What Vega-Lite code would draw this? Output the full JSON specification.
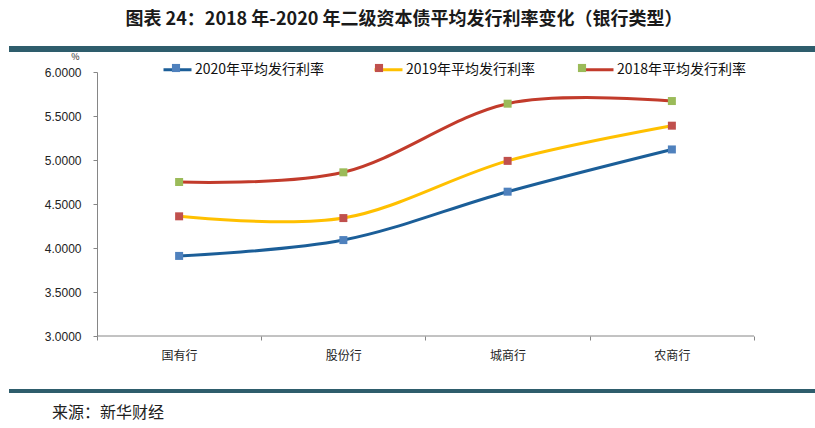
{
  "$schema": "https://vega.github.io/schema/vega-lite/v6.json",
  "padding": {"left": 9, "top": 11, "right": 0, "bottom": 4},
  "background": "white",
  "title": {
    "text": "图表 24：2018 年-2020 年二级资本债平均发行利率变化（银行类型）",
    "font": "Noto Sans CJK SC",
    "fontSize": 18,
    "fontWeight": "bold",
    "color": "#1a1a1a",
    "anchor": "middle",
    "dx": -8,
    "offset": 17
  },
  "spacing": 0,
  "columns": 1,
  "align": "none",
  "concat": [
    {
      "width": 806,
      "height": 6,
      "view": {"fill": "#2E5D6C", "stroke": null},
      "data": {"values": []},
      "mark": {"type": "rule"},
      "encoding": {}
    },
    {
      "spacing": 28,
      "columns": 1,
      "align": "none",
      "concat": [
        {
          "width": 745,
          "height": 264,
          "data": {
            "values": [
              {"bank": "国有行", "series": "2020年平均发行利率", "rate": 3.91},
              {"bank": "股份行", "series": "2020年平均发行利率", "rate": 4.09},
              {"bank": "城商行", "series": "2020年平均发行利率", "rate": 4.64},
              {"bank": "农商行", "series": "2020年平均发行利率", "rate": 5.12},
              {"bank": "国有行", "series": "2019年平均发行利率", "rate": 4.36},
              {"bank": "股份行", "series": "2019年平均发行利率", "rate": 4.34},
              {"bank": "城商行", "series": "2019年平均发行利率", "rate": 4.99},
              {"bank": "农商行", "series": "2019年平均发行利率", "rate": 5.39},
              {"bank": "国有行", "series": "2018年平均发行利率", "rate": 4.75},
              {"bank": "股份行", "series": "2018年平均发行利率", "rate": 4.86},
              {"bank": "城商行", "series": "2018年平均发行利率", "rate": 5.64},
              {"bank": "农商行", "series": "2018年平均发行利率", "rate": 5.67}
            ]
          },
          "encoding": {
            "x": {
              "field": "bank",
              "type": "nominal",
              "sort": ["国有行", "股份行", "城商行", "农商行"],
              "scale": {"type": "band", "paddingInner": 0, "paddingOuter": 0.26788, "align": 1},
              "axis": {
                "title": null,
                "labelAngle": 0,
                "tickBand": "extent",
                "domain": false,
                "tickColor": "#868686",
                "tickSize": 4,
                "labelFontSize": 12,
                "labelColor": "#222222",
                "labelFont": "Noto Sans CJK SC",
                "labelPadding": 10,
                "grid": false
              }
            },
            "y": {
              "field": "rate",
              "type": "quantitative",
              "scale": {"domain": [3, 6], "nice": false, "zero": false},
              "axis": {
                "values": [3, 3.5, 4, 4.5, 5, 5.5, 6],
                "format": ".4f",
                "offset": -88,
                "title": "%",
                "titleAngle": 0,
                "titleX": -22,
                "titleY": -16,
                "titleFontSize": 9,
                "titleFontWeight": "normal",
                "titleAlign": "center",
                "titleBaseline": "middle",
                "titleColor": "#222222",
                "domainColor": "#868686",
                "tickColor": "#868686",
                "tickSize": 4,
                "labelFontSize": 12,
                "labelColor": "#222222",
                "labelFont": "Liberation Sans",
                "labelPadding": 12,
                "grid": false
              }
            }
          },
          "layer": [
            {
              "data": {"values": [{"base": 3}]},
              "mark": {"type": "rule", "color": "#868686", "strokeWidth": 1},
              "encoding": {
                "y": {"field": "base", "type": "quantitative"},
                "x": {"datum": "国有行", "bandPosition": 0},
                "x2": {"datum": "农商行", "bandPosition": 1}
              }
            },
            {
              "mark": {"type": "line", "interpolate": "cardinal", "strokeWidth": 3},
              "encoding": {
                "stroke": {
                  "field": "series",
                  "type": "nominal",
                  "scale": {
                    "domain": ["2020年平均发行利率", "2019年平均发行利率", "2018年平均发行利率"],
                    "range": ["#1B5E98", "#FFC000", "#C23B2B"]
                  },
                  "legend": {
                    "title": null,
                    "orient": "none",
                    "direction": "horizontal",
                    "legendX": 153,
                    "legendY": 8,
                    "padding": 0,
                    "symbolType": "M-1,0L1,0",
                    "symbolSize": 784,
                    "symbolStrokeWidth": 3,
                    "labelFontSize": 14,
                    "labelFont": "Noto Sans CJK SC",
                    "labelColor": "#111111",
                    "labelOffset": 2,
                    "columnPadding": 43,
                    "zindex": 0
                  }
                }
              }
            },
            {
              "mark": {"type": "point", "shape": "square", "filled": true, "size": 64, "opacity": 1},
              "encoding": {
                "fill": {
                  "field": "series",
                  "type": "nominal",
                  "sort": "descending",
                  "scale": {"range": ["#4F81BD", "#C0504D", "#9BBB59"]},
                  "legend": {
                    "title": null,
                    "orient": "none",
                    "direction": "horizontal",
                    "legendX": 153,
                    "legendY": 8,
                    "padding": 0,
                    "symbolType": "M-0.29,-0.29L0.29,-0.29L0.29,0.29L-0.29,0.29Z",
                    "symbolSize": 784,
                    "symbolStrokeWidth": 0,
                    "symbolOpacity": 1,
                    "labelFontSize": 14,
                    "labelFont": "Noto Sans CJK SC",
                    "labelOpacity": 0,
                    "labelOffset": 2,
                    "columnPadding": 43,
                    "zindex": 1
                  }
                }
              }
            }
          ]
        },
        {
          "width": 806,
          "height": 4,
          "view": {"fill": "#2E5D6C", "stroke": null},
          "title": {
            "text": "来源：新华财经",
            "orient": "bottom",
            "anchor": "start",
            "dx": 43,
            "offset": 12,
            "font": "Noto Sans CJK SC",
            "fontSize": 16,
            "fontWeight": "normal",
            "color": "#222222"
          },
          "data": {"values": []},
          "mark": {"type": "rule"},
          "encoding": {}
        }
      ]
    }
  ],
  "config": {
    "view": {"stroke": null},
    "font": "Noto Sans CJK SC"
  }
}
